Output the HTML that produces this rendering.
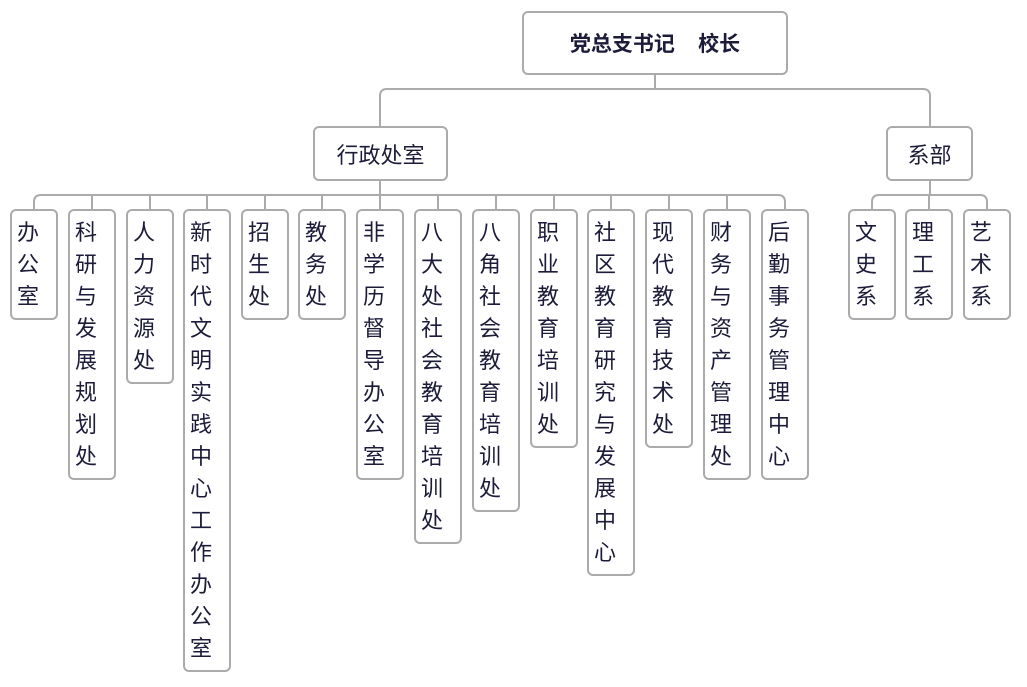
<!DOCTYPE html><html><head><meta charset="utf-8"><style>
body{margin:0;width:1027px;height:687px;background:#fff;position:relative;font-family:"Liberation Sans","Noto Sans CJK SC",sans-serif;color:#1c1c3a;overflow:hidden}
.b{position:absolute;border:2px solid #ababab;border-radius:6px;background:#fff;box-sizing:border-box}
.v{width:48px;top:209px;font-size:22px;line-height:32px;padding-top:6px;text-align:left;padding-left:5px}
.h{display:flex;align-items:center;justify-content:center;font-size:22px}
svg{position:absolute;left:0;top:0}
</style></head><body>
<svg width="1027" height="687" fill="none" stroke="#ababab" stroke-width="2">
<path d="M655 75V89M380 126V96Q380 89 387 89H923Q930 89 930 96V126"/>
<path d="M380 181V195M34 209V202Q34 195 41 195H778Q785 195 785 202V209"/>
<path d="M92 195Q92 195 92 209M150 195V209M207 195V209M265 195V209M322 195V209M380 195V209M438 195V209M496 195V209M554 195V209M611 195V209M669 195V209M727 195V209"/>
<path d="M930 181V195M872 209V202Q872 195 879 195H980Q987 195 987 202V209M929 195V209"/>
</svg>
<div class="b h" style="left:522px;top:11px;width:266px;height:64px;font-weight:bold;font-size:21px">党总支书记&nbsp;&nbsp;&nbsp;&nbsp;校长</div>
<div class="b h" style="left:313px;top:126px;width:135px;height:55px">行政处室</div>
<div class="b h" style="left:886px;top:126px;width:87px;height:55px">系部</div>
<div class="b v" style="left:10px;height:111px">办<br>公<br>室</div>
<div class="b v" style="left:68px;height:271px">科<br>研<br>与<br>发<br>展<br>规<br>划<br>处</div>
<div class="b v" style="left:126px;height:175px">人<br>力<br>资<br>源<br>处</div>
<div class="b v" style="left:183px;height:463px">新<br>时<br>代<br>文<br>明<br>实<br>践<br>中<br>心<br>工<br>作<br>办<br>公<br>室</div>
<div class="b v" style="left:241px;height:111px">招<br>生<br>处</div>
<div class="b v" style="left:298px;height:111px">教<br>务<br>处</div>
<div class="b v" style="left:356px;height:271px">非<br>学<br>历<br>督<br>导<br>办<br>公<br>室</div>
<div class="b v" style="left:414px;height:335px">八<br>大<br>处<br>社<br>会<br>教<br>育<br>培<br>训<br>处</div>
<div class="b v" style="left:472px;height:303px">八<br>角<br>社<br>会<br>教<br>育<br>培<br>训<br>处</div>
<div class="b v" style="left:530px;height:239px">职<br>业<br>教<br>育<br>培<br>训<br>处</div>
<div class="b v" style="left:587px;height:367px">社<br>区<br>教<br>育<br>研<br>究<br>与<br>发<br>展<br>中<br>心</div>
<div class="b v" style="left:645px;height:239px">现<br>代<br>教<br>育<br>技<br>术<br>处</div>
<div class="b v" style="left:703px;height:271px">财<br>务<br>与<br>资<br>产<br>管<br>理<br>处</div>
<div class="b v" style="left:761px;height:271px">后<br>勤<br>事<br>务<br>管<br>理<br>中<br>心</div>
<div class="b v" style="left:848px;height:111px">文<br>史<br>系</div>
<div class="b v" style="left:905px;height:111px">理<br>工<br>系</div>
<div class="b v" style="left:963px;height:111px">艺<br>术<br>系</div>
</body></html>
